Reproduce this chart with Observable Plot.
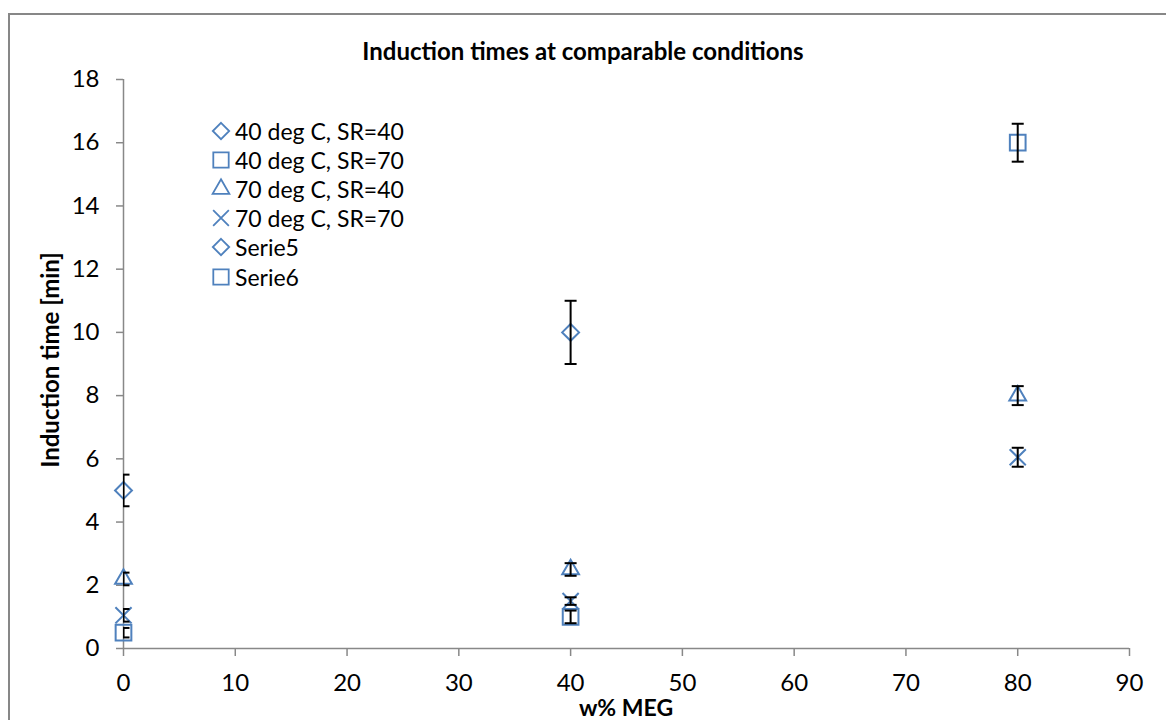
<!DOCTYPE html>
<html>
<head>
<meta charset="utf-8">
<script src="https://cdn.jsdelivr.net/npm/d3@7"></script>
<script src="https://cdn.jsdelivr.net/npm/@observablehq/plot@0.6"></script>
<style>
  html, body { margin: 0; padding: 0; background: #fff; }
  #wrap { position: relative; width: 1166px; height: 720px; overflow: hidden; font-family: Lato, "Open Sans", sans-serif; color: #000; }
  #border { position: absolute; left: 8px; top: 13px; width: 1200px; height: 800px; border: 2px solid #878787; box-sizing: border-box; }
  #chart { position: absolute; left: 0; top: 0; }
  .title { position: absolute; left: 0; width: 1166px; top: 37px; text-align: center; font-weight: 700; font-size: 24px; line-height: 28.8px; }
  .xlabel { position: absolute; left: 123px; width: 1006px; top: 694px; text-align: center; font-weight: 700; font-size: 23px; line-height: 27.6px; }
  .ylabel { position: absolute; left: 50px; top: 360px; transform: translate(-50%, -50%) rotate(-90deg); white-space: nowrap; font-weight: 700; font-size: 24px; line-height: 28.8px; }
  #legend { position: absolute; left: 209px; top: 116px; }
  .item { display: flex; align-items: center; height: 29.2px; font-size: 23px; white-space: nowrap; }
  .item svg { width: 24px; height: 24px; margin-right: 2px; flex: none; }
</style>
</head>
<body>
<div id="wrap">
  <div id="border"></div>
  <div id="chart"></div>
  <div class="title">Induction times at comparable conditions</div>
  <div class="xlabel">w% MEG</div>
  <div class="ylabel">Induction time [min]</div>
  <div id="legend"></div>
</div>
<script>
// ---- data ----
const seriesNames = ["40 deg C, SR=40", "40 deg C, SR=70", "70 deg C, SR=40", "70 deg C, SR=70", "Serie5", "Serie6"];
const seriesSymbols = ["diamond2", "square2", "triangle2", "times", "diamond2", "square2"];
const megX = [0, 40, 80];
// values per series at megX (null = no point)
const s1Vals = [5, 10, null];
const s1Err = [0.5, 1, null];
const s2Vals = [0.5, 1, 16];
const s2Err = [0.15, 0.2, 0.6];
const s3Vals = [2.2, 2.5, 8];
const s3Err = [0.2, 0.2, 0.3];
const s4Vals = [1.05, 1.5, 6.05];
const s4Err = [0.2, 0.12, 0.3];
const s5Vals = [null, null, null];
const s6Vals = [null, null, null];
const xTicks = [0, 10, 20, 30, 40, 50, 60, 70, 80, 90];
const yTicks = [0, 2, 4, 6, 8, 10, 12, 14, 16, 18];

const blue = "#4f81bd";
const allVals = [s1Vals, s2Vals, s3Vals, s4Vals, s5Vals, s6Vals];
const allErr = [s1Err, s2Err, s3Err, s4Err, null, null];
const radii = {diamond2: 7.6, square2: 10, triangle2: 8, times: 7.4};

const points = [];
allVals.forEach((vals, si) => {
  vals.forEach((v, i) => {
    if (v == null) return;
    const e = allErr[si] ? allErr[si][i] : 0;
    points.push({series: seriesNames[si], symbol: seriesSymbols[si], x: megX[i], y: v, lo: v - e, hi: v + e});
  });
});

const cap = {
  draw(context, size) {
    const w = 6;
    context.moveTo(-w, 0);
    context.lineTo(w, 0);
  }
};

const markerMarks = Object.keys(radii).map(sym =>
  Plot.dot(points.filter(p => p.symbol === sym), {
    x: "x", y: "y", symbol: sym, r: radii[sym], stroke: blue, strokeWidth: 2, fill: "none"
  })
);
const errPts = points.filter(p => p.hi > p.lo);

const chart = Plot.plot({
  width: 1166,
  height: 720,
  marginLeft: 123,
  marginRight: 37,
  marginTop: 79,
  marginBottom: 72,
  style: {fontFamily: "Lato, 'Open Sans', sans-serif", background: "transparent", color: "#000", overflow: "visible"},
  x: {domain: [0, 90]},
  y: {domain: [0, 18]},
  marks: [
    Plot.axisY({ticks: yTicks, tickSize: 7, tickPadding: 17, stroke: "#888", strokeWidth: 1.5, fontSize: 24, label: null, strokeOpacity: 1}),
    Plot.axisX({ticks: xTicks, tickSize: 8, tickPadding: 17, stroke: "#888", strokeWidth: 1.5, fontSize: 24, label: null, strokeOpacity: 1}),
    Plot.ruleY([0], {stroke: "#888", strokeWidth: 1.5}),
    Plot.ruleX([0], {stroke: "#888", strokeWidth: 1.5}),
    ...markerMarks,
    Plot.link(errPts, {x1: "x", x2: "x", y1: "lo", y2: "hi", stroke: "#000", strokeWidth: 2, clip: true}),
    Plot.dot(errPts, {x: "x", y: "hi", symbol: cap, stroke: "#000", strokeWidth: 2, clip: true}),
    Plot.dot(errPts, {x: "x", y: "lo", symbol: cap, stroke: "#000", strokeWidth: 2, clip: true})
  ]
});
document.getElementById("chart").appendChild(chart);

// ---- legend ----
const legend = document.getElementById("legend");
const legendSym = {diamond2: d3.symbolDiamond2, square2: d3.symbolSquare2, triangle2: d3.symbolTriangle2, times: d3.symbolTimes};
const legendR = {diamond2: 7.4, square2: 9.8, triangle2: 8, times: 7.2};
seriesNames.forEach((name, i) => {
  const sym = seriesSymbols[i];
  const item = document.createElement("div");
  item.className = "item";
  const r = legendR[sym];
  const d = d3.symbol(legendSym[sym], r * r * Math.PI)();
  item.innerHTML = `<svg viewBox="-12 -12 24 24"><path d="${d}" fill="none" stroke="${blue}" stroke-width="1.8"/></svg><span>${name}</span>`;
  legend.appendChild(item);
});
</script>
</body>
</html>
